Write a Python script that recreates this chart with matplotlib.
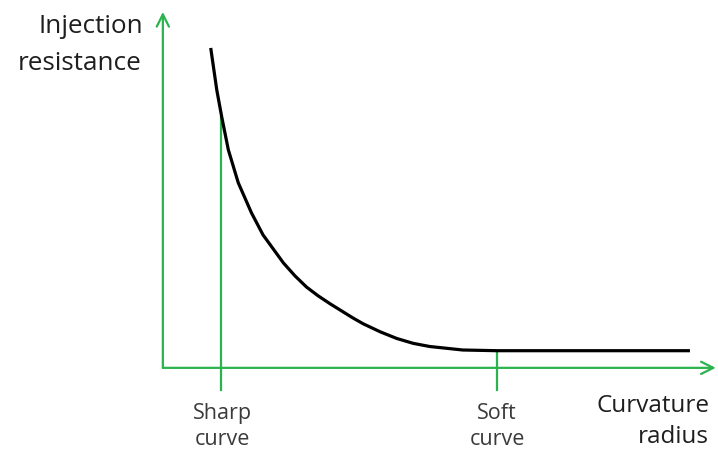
import matplotlib.pyplot as plt
import numpy as np

# curve (x: curvature radius, y: injection resistance)
radius = [8.7, 9.8, 10.7, 11.9, 13.7, 16.1, 18.2, 21.9, 24.0, 26.1, 28.2,
          30.4, 34.5, 36.4, 39.5, 42.5, 45.5, 48.5, 51.5, 54.5, 60.7, 95.8]
resistance = [91.4, 79.4, 71.7, 62.3, 52.9, 44.3, 38.0, 30.0, 26.3, 23.1,
              20.6, 18.3, 14.3, 12.6, 10.3, 8.4, 7.0, 6.1, 5.6, 5.1, 4.9,
              4.9]

marks = ['Sharp', 'Soft']
mark_x = [10.6, 60.7]
mark_top = [71.7, 4.9]

green = '#2bb34f'

plt.rcParams['font.family'] = ['Open Sans', 'DejaVu Sans']

W, H = 718, 455
fig = plt.figure(figsize=(W / 100, H / 100), dpi=100)
ax = fig.add_axes([0, 0, 1, 1])
ax.set_xlim(-29.6, 100.9)
ax.set_ylim(-24.9, 105.1)
ax.axis('off')

# axes with open arrow heads
ax.annotate('', xy=(100.5, 0), xytext=(0, 0),
            arrowprops=dict(arrowstyle='->', color=green, lw=1.6,
                            mutation_scale=22, shrinkA=0, shrinkB=0))
ax.annotate('', xy=(0, 101.7), xytext=(0, 0),
            arrowprops=dict(arrowstyle='->', color=green, lw=1.6,
                            mutation_scale=22, shrinkA=0, shrinkB=0))

for x, top in zip(mark_x, mark_top):
    ax.plot([x, x], [-6.3, top], color=green, lw=1.6, zorder=1)

ax.plot(radius, resistance, color='black', lw=2.3, zorder=2,
        solid_capstyle='butt', solid_joinstyle='round')


def px_text(x, y, s, size, color, ha):
    # place by pixel position (baseline)
    fig.text(x / W, 1 - y / H, s, ha=ha, va='baseline', fontsize=size,
             color=color)


for lab, px in zip(marks, [222, 497]):
    px_text(px, 419, lab, 15.5, '#3a3a3a', 'center')
    px_text(px, 445, 'curve', 15.5, '#3a3a3a', 'center')

px_text(143, 33, 'Injection', 18.8, '#1e1e1e', 'right')
px_text(141, 70, 'resistance', 18.8, '#1e1e1e', 'right')
px_text(709, 412, 'Curvature', 17.5, '#1e1e1e', 'right')
px_text(709, 443, 'radius', 17.5, '#1e1e1e', 'right')

fig.savefig('out.png', dpi=100)
